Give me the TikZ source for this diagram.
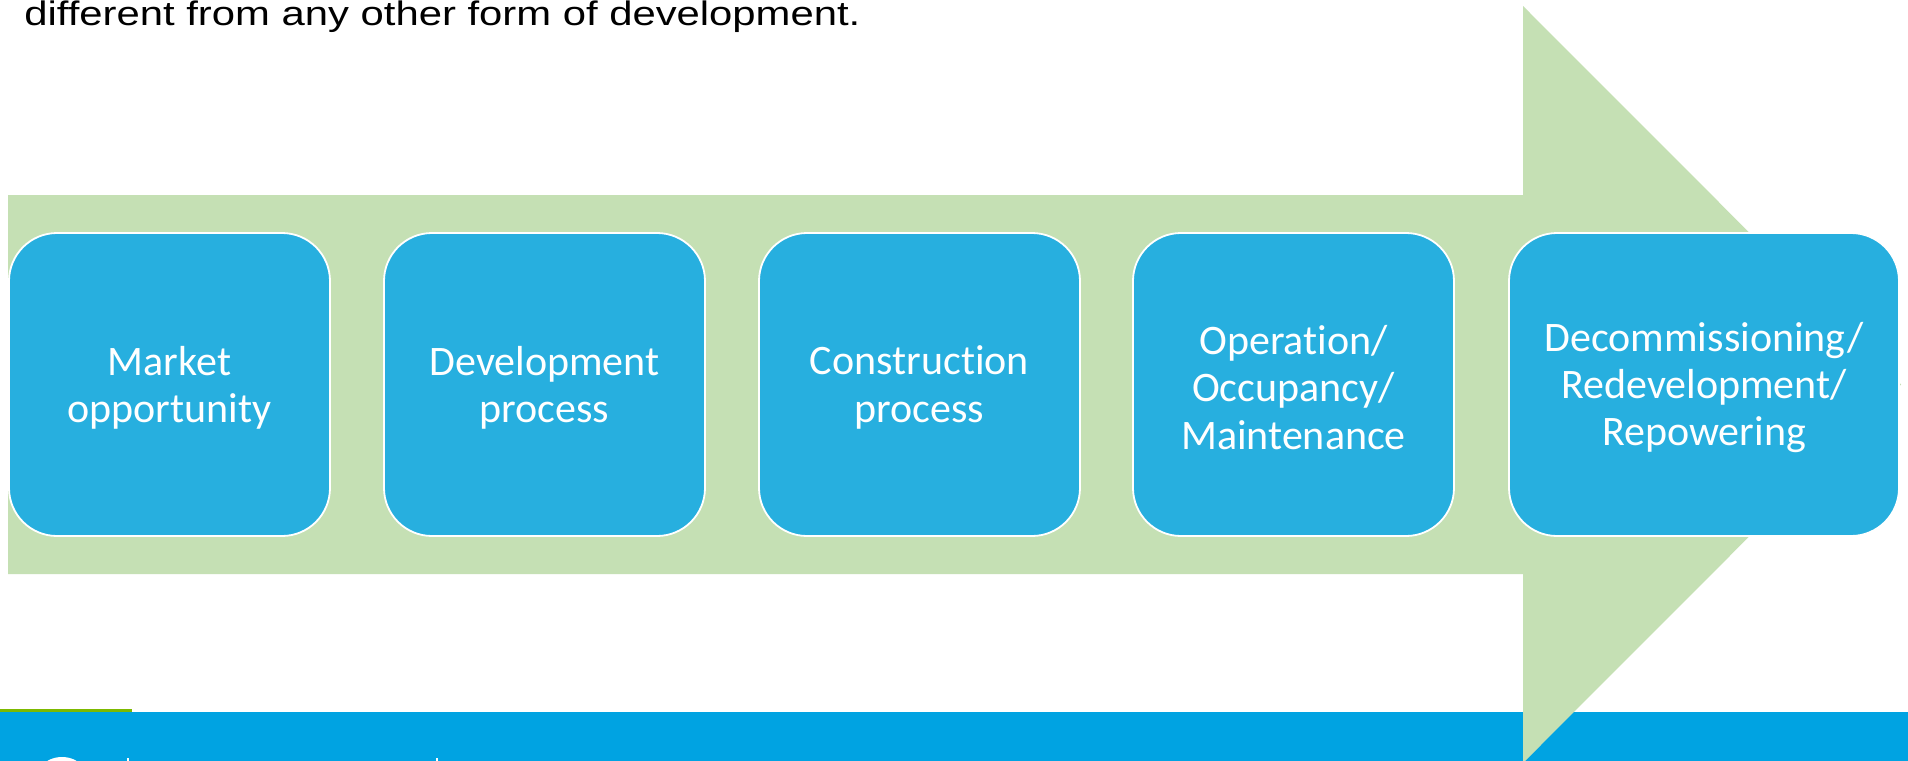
\documentclass[tikz,border=0pt]{standalone}
\usepackage{fontspec}
\usepackage{graphicx}
\setmainfont{Carlito}[Ligatures=NoCommon]
\newfontfamily\titlefont{Liberation Sans}
\definecolor{bandgreen}{HTML}{C5E0B4}
\definecolor{boxblue}{HTML}{27AFDF}
\definecolor{barblue}{HTML}{00A3E2}
\definecolor{linegreen}{HTML}{7DB900}
\begin{document}
\begin{tikzpicture}[x=0.5pt,y=-0.5pt,
  stagebox/.style={rectangle, rounded corners=24pt, fill=boxblue, draw=white,
    line width=0.9pt, minimum height=151.5pt, inner sep=0pt},
  smallbox/.style={stagebox, minimum width=160.5pt},
  bigbox/.style={stagebox, minimum width=195pt},
  stagetext/.style={inner sep=0pt, align=center, text=white,
    font=\fontsize{21}{23.7}\selectfont}]
\useasboundingbox (0,0) rectangle (1908,761);
\clip (0,0) rectangle (1908,761);
\fill[white] (0,0) rectangle (1908,761);
% title line (partly cut at the top)
\node[anchor=base west, inner sep=0pt] (title) at (24,25)
  {\titlefont\fontsize{17}{20}\selectfont\scalebox{1.23}[1]{different from any other form of development.}};
% bottom bar
\fill[barblue] (0,712) rectangle (1908,761);
\fill[linegreen] (0,709) rectangle (132,712);
\fill[white] (62,787) circle[radius=30];
\fill[white] (127,758) rectangle (129,761);
\fill[white] (436,758) rectangle (438,761);
% big arrow
\fill[bandgreen] (8,195) -- (1523,195) -- (1523,6) -- (1901,384.5) -- (1523,763)
  -- (1523,574) -- (8,574) -- cycle;
% stages
\node[smallbox] (s1) at (169.5,384.5) {};
\node[smallbox] (s2) at (544.5,384.5) {};
\node[smallbox] (s3) at (919.5,384.5) {};
\node[smallbox] (s4) at (1293.5,384.5) {};
\node[bigbox] (s5) at (1704,384.5) {};
\node[stagetext] (t1) at ([yshift=-1.5pt]s1.center) {Market\\opportunity};
\node[stagetext] (t2) at ([yshift=-1.5pt]s2.center) {Development\\process};
\node[stagetext] (t3) at ([yshift=-1.5pt]s3.center) {Construction\\process};
\node[stagetext] (t4) at ([yshift=-1.5pt]s4.center) {Operation/\\Occupancy/\\Maintenance};
\node[stagetext] (t5) at ([yshift=-1.5pt]s5.center) {Decommissioning/\\Redevelopment/\\Repowering};
\end{tikzpicture}
\end{document}
